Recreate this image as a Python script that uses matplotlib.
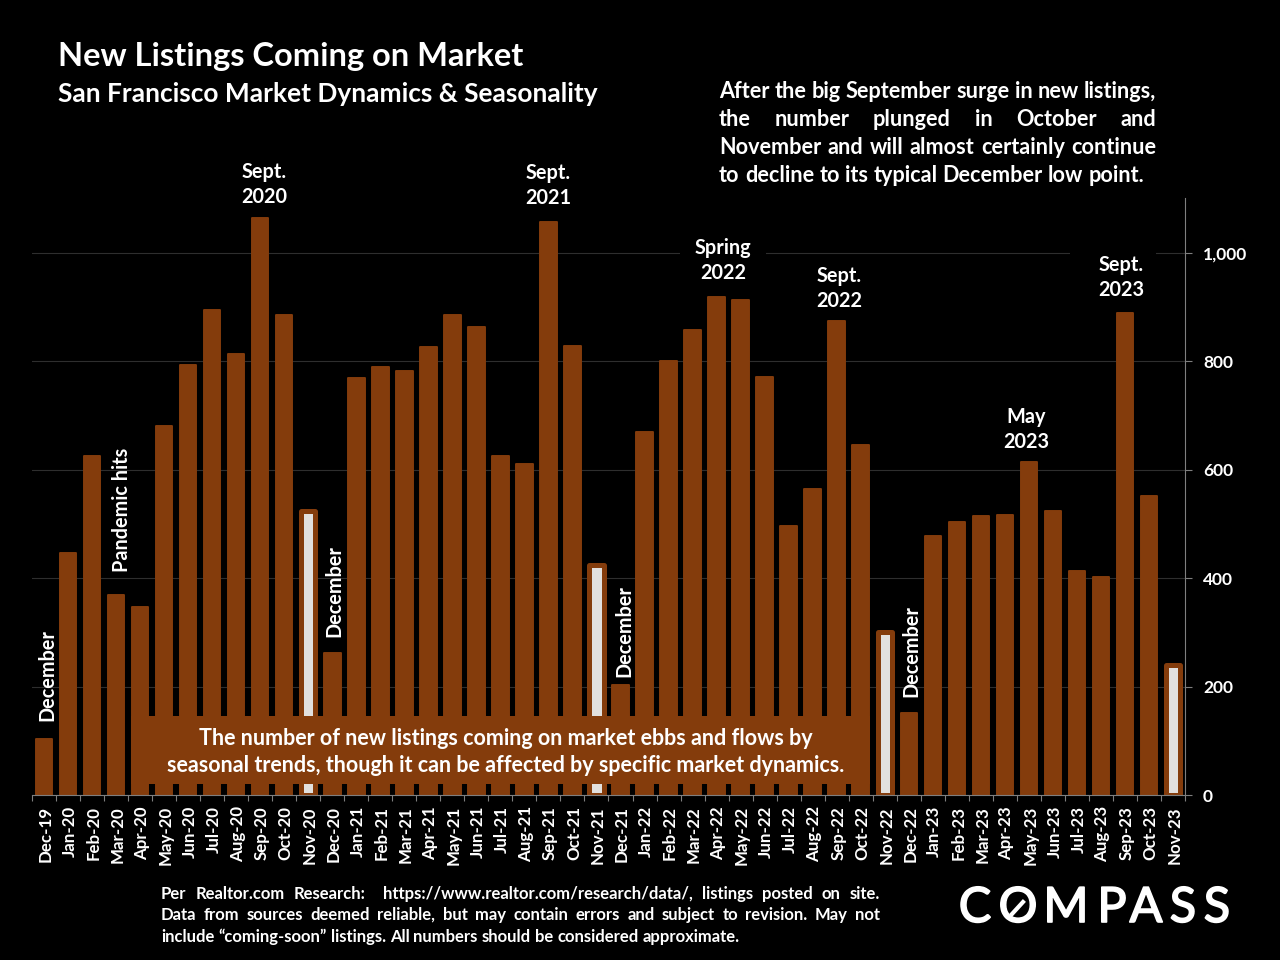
import matplotlib
matplotlib.use("Agg")
import matplotlib.pyplot as plt
import matplotlib.patheffects as pe
from matplotlib.patches import Rectangle
from matplotlib.transforms import ScaledTranslation
import numpy as np

plt.rcParams["font.family"] = ["Lato", "DejaVu Sans"]
plt.rcParams["font.weight"] = "bold"

W, H = 1280, 960

# Datos
months = ["Dec-19", "Jan-20", "Feb-20", "Mar-20", "Apr-20", "May-20", "Jun-20", "Jul-20", "Aug-20", "Sep-20",
          "Oct-20", "Nov-20", "Dec-20", "Jan-21", "Feb-21", "Mar-21", "Apr-21", "May-21", "Jun-21", "Jul-21",
          "Aug-21", "Sep-21", "Oct-21", "Nov-21", "Dec-21", "Jan-22", "Feb-22", "Mar-22", "Apr-22", "May-22",
          "Jun-22", "Jul-22", "Aug-22", "Sep-22", "Oct-22", "Nov-22", "Dec-22", "Jan-23", "Feb-23", "Mar-23",
          "Apr-23", "May-23", "Jun-23", "Jul-23", "Aug-23", "Sep-23", "Oct-23", "Nov-23"]
listings = [103, 446, 625, 369, 347, 681, 793, 895, 813, 1064,
            885, 523, 262, 769, 789, 782, 826, 885, 863, 625,
            611, 1057, 828, 425, 203, 670, 800, 858, 918, 913,
            771, 497, 564, 874, 646, 300, 151, 478, 503, 515,
            516, 614, 524, 413, 402, 889, 551, 239]
november_idx = [11, 23, 35, 47]
y_ticks = [0, 200, 400, 600, 800, 1000]
y_labels = ["0", "200", "400", "600", "800", "1,000"]

brown = "#843C0C"
light = "#E2E0DE"

fig = plt.figure(figsize=(12.8, 9.6), dpi=100, facecolor="black")
ax = fig.add_axes([32 / W, 1 - 795 / H, (1185 - 32) / W, (795 - 198) / H], facecolor="black")

x = np.arange(len(months))
colors = [light if i in november_idx else brown for i in x]
widths = [0.6 if i in november_idx else 0.687 for i in x]
edge_w = [3.6 if i in november_idx else 1.4 for i in x]
bars = ax.bar(x, listings, width=widths, color=colors, edgecolor=brown, linewidth=edge_w, zorder=2)
for b in bars:
    b.set_joinstyle("round")

ax.set_xlim(-0.5, len(months) - 0.5)
ax.set_ylim(0, 1101)
ax.yaxis.tick_right()
ax.set_yticks(y_ticks)
ax.set_yticklabels(y_labels, color="white", fontsize=12.5, ha="left")
ax.set_xticks(x)
ax.set_xticklabels(months, rotation=90, color="white", fontsize=12.2)
ax.set_xticks(np.arange(-0.5, len(months)), minor=True)
ax.tick_params(axis="x", which="major", length=0, pad=8)
ax.tick_params(axis="x", which="minor", length=4, color="#7f7f7f", width=0.8, direction="out")
ax.tick_params(axis="y", length=5, color="#7f7f7f", width=0.8, pad=8)
ax.grid(axis="y", color="#2e2e2e", linewidth=0.8, zorder=1)
for side in ["top", "left"]:
    ax.spines[side].set_visible(False)
for side in ["bottom", "right"]:
    ax.spines[side].set_color("#7f7f7f")
    ax.spines[side].set_linewidth(0.8)
# las etiquetas rotadas quedan un poco a la izquierda
for lab in ax.get_xticklabels():
    lab.set_transform(lab.get_transform() + ScaledTranslation(1.5 / 100, 0, fig.dpi_scale_trans))


def put(px, py, s, size, **kw):
    kw.setdefault("color", "white")
    kw.setdefault("va", "center")
    return fig.text(px / W, 1 - py / H, s, fontsize=size, **kw)


def box(x0, y0, x1, y1, color, z=3):
    fig.add_artist(Rectangle((x0 / W, 1 - y1 / H), (x1 - x0) / W, (y1 - y0) / H,
                             transform=fig.transFigure, facecolor=color, edgecolor="none", zorder=z))


def justified(lines, x0, x1, ys, size, stretch):
    # justifica cada linea repartiendo el hueco entre palabras
    r = fig.canvas.get_renderer()
    space = put(0, 0, "a a", size)
    a = put(0, 0, "aa", size)
    sp = space.get_window_extent(r).width - a.get_window_extent(r).width
    space.remove()
    a.remove()
    for line, py, st in zip(lines, ys, stretch):
        words = line.split(" ")
        items = [put(x0, py, w, size, ha="left") for w in words]
        ws = [t.get_window_extent(r).width for t in items]
        gap = (x1 - x0 - sum(ws)) / (len(words) - 1) if st else sp
        pos = x0
        for t, w in zip(items, ws):
            t.set_x(pos / W)
            pos += w + gap


put(58, 56.5, "New Listings Coming on Market", 23.5, ha="left")
put(58, 94.5, "San Francisco Market Dynamics & Seasonality", 18.9, ha="left")

justified(["After the big September surge in new listings,",
           "the number plunged in October and",
           "November and will almost certainly continue",
           "to decline to its typical December low point."],
          719, 1156, [91, 119, 147, 175], 15.6, [True, True, True, False])

# Anotaciones de picos, con hueco negro en la rejilla donde tapan la linea de 1,000
box(680, 246, 766, 260, "black")
box(1070, 246, 1156, 260, "black")
peaks = [(264, 184.5, "Sept.\n2020"), (548, 185.5, "Sept.\n2021"), (723, 260.5, "Spring\n2022"),
         (839, 288.5, "Sept.\n2022"), (1121, 277.5, "Sept.\n2023"), (1026, 429.5, "May\n2023")]
for px, py, s in peaks:
    put(px, py, s, 14.3, ha="center", linespacing=1.36, zorder=4)

rotated = [(47.5, 675, "December"), (122.5, 510, "Pandemic hits"), (334.5, 591, "December"),
           (624.5, 631, "December"), (911.5, 651, "December")]
for px, py, s in rotated:
    put(px, py, s, 14.3, ha="center", rotation=90, zorder=4)

# Caja de texto sobre las barras
box(131, 716, 870, 784, brown)
put(506, 738.5, "The number of new listings coming on market ebbs and flows by", 15.5, ha="center", zorder=4)
put(506, 765.5, "seasonal trends, though it can be affected by specific market dynamics.", 15.5, ha="center", zorder=4)

justified(["Per Realtor.com Research:  https://www.realtor.com/research/data/, listings posted on site.",
           "Data from sources deemed reliable, but may contain errors and subject to revision. May not",
           "include “coming-soon” listings. All numbers should be considered approximate."],
          161, 880, [894, 915, 937], 12, [True, True, False])

# Logo
logo = [("C", 975), ("O", 1018), ("M", 1066), ("P", 1112), ("A", 1146), ("S", 1183), ("S", 1217)]
for ch, px in logo:
    put(px, 908, ch, 35, ha="center", weight="normal",
        path_effects=[pe.withStroke(linewidth=1.2, foreground="white")])
fig.add_artist(plt.Line2D([1012 / W, 1023 / W], [1 - 914 / H, 1 - 902 / H], color="white", linewidth=3,
                          transform=fig.transFigure, zorder=4))

fig.savefig("out.png", dpi=100, facecolor="black")
